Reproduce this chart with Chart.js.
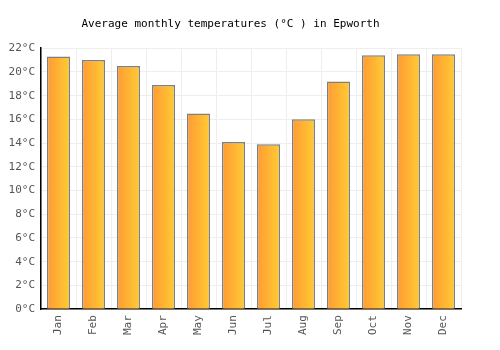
<!DOCTYPE html>
<html>
<head>
<meta charset="utf-8">
<script src="https://cdn.jsdelivr.net/npm/chart.js@4"></script>
<style>
  html, body { margin: 0; padding: 0; background: #fff; }
  #wrap { width: 500px; height: 350px; }
</style>
</head>
<body>
<div id="wrap"><canvas id="chart"></canvas></div>
<script>
const months = ['Jan', 'Feb', 'Mar', 'Apr', 'May', 'Jun', 'Jul', 'Aug', 'Sep', 'Oct', 'Nov', 'Dec'];
const temps = [21.3, 21.0, 20.5, 18.9, 16.5, 14.1, 13.9, 16.0, 19.2, 21.4, 21.5, 21.5];
const yTicks = [0, 2, 4, 6, 8, 10, 12, 14, 16, 18, 20, 22];

const FONT = 'DejaVu Sans Mono';

// horizontal orange -> yellow gradient, one per bar
const barGradient = {
  id: 'barGradient',
  beforeDatasetsDraw(chart) {
    const ctx = chart.ctx;
    chart.getDatasetMeta(0).data.forEach(el => {
      const left = el.x - el.width / 2;
      const g = ctx.createLinearGradient(left, 0, left + el.width, 0);
      g.addColorStop(0, '#ff9a33');
      g.addColorStop(1, '#ffcc33');
      el.options = Object.assign({}, el.options, { backgroundColor: g });
    });
  }
};

new Chart(document.getElementById('chart'), {
  type: 'bar',
  data: {
    labels: months,
    datasets: [{
      data: temps,
      borderColor: '#7f7f7f',
      borderWidth: 1.5,
      barPercentage: 0.66,
      categoryPercentage: 1,
    }],
  },
  plugins: [barGradient],
  options: {
    responsive: true, maintainAspectRatio: false, animation: false,
    layout: { padding: { left: 0, right: 39, top: 1, bottom: 9 } },
    scales: {
      x: {
        grid: { color: '#eeeeee', drawTicks: false },
        border: { color: '#000', width: 1.5 },
        ticks: { color: '#555', font: { family: FONT, size: 11 }, maxRotation: 90, minRotation: 90, padding: 6 },
      },
      y: {
        min: 0, max: 22,
        afterBuildTicks: axis => { axis.ticks = yTicks.map(v => ({ value: v })); },
        afterFit: axis => { axis.width = 41; },
        grid: { color: '#eeeeee', drawTicks: false },
        border: { color: '#000', width: 1.5 },
        ticks: { color: '#555', font: { family: FONT, size: 11 }, padding: 6, callback: v => v + '°C' },
      },
    },
    plugins: {
      legend: { display: false },
      tooltip: { enabled: false },
      title: {
        display: true,
        text: 'Average monthly temperatures (°C ) in Epworth',
        color: '#000',
        font: { family: FONT, size: 11, weight: 'normal' },
        padding: { top: 17, bottom: 17 },
      },
    },
  },
});
</script>
</body>
</html>
